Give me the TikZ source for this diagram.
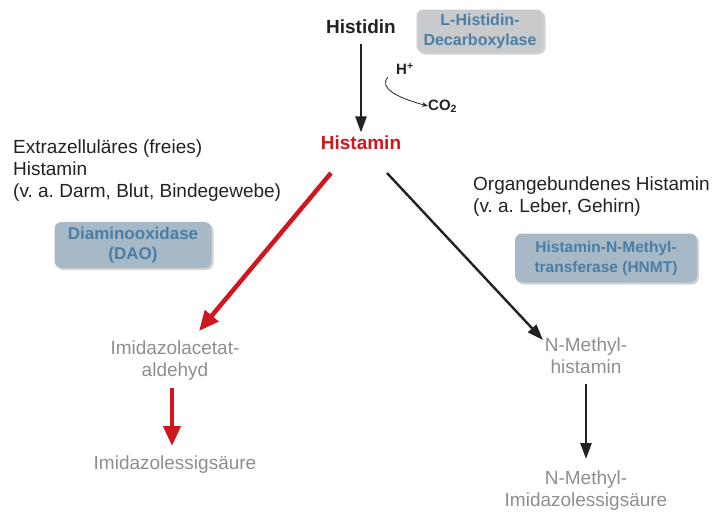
\documentclass[tikz,border=0pt]{standalone}
\usepackage{fontspec}
\setmainfont{Liberation Sans}
\usetikzlibrary{shadows, arrows.meta}
\definecolor{enzfill}{HTML}{A7B9C7}
\definecolor{enzgray}{HTML}{C9CACB}
\definecolor{enztext}{HTML}{4A7EA6}
\definecolor{histred}{HTML}{D0161E}
\definecolor{prodgray}{HTML}{8E8E8E}
\definecolor{txt}{HTML}{222222}
\frenchspacing

\begin{document}
\begin{tikzpicture}[x=1pt, y=-1pt,
    every node/.style={font=\fontsize{19}{22}\selectfont, text=txt, align=center},
    enzyme/.style={rounded corners=7pt, fill=enzfill, draw=none, text=enztext,
        font=\fontsize{17}{20}\selectfont\bfseries, drop shadow={opacity=0.35, shadow xshift=2pt, shadow yshift=-2pt}},
    product/.style={text=prodgray},
    blackarrow/.style={-{Triangle[length=16pt, width=11pt]}, line width=2.4pt, draw=txt},
    redarrow/.style={-{Triangle[length=20pt, width=17pt]}, line width=4.5pt, draw=histred}]
    \useasboundingbox (0,0) rectangle (713,512);
    % Decarboxylierung
    \node[font=\fontsize{19}{22}\selectfont\bfseries] (histidin) at (361,27) {Histidin};
    \node[enzyme, fill=enzgray, minimum width=127pt, minimum height=43pt,
        font=\fontsize{16}{20}\selectfont\bfseries] (hdc) at (480,31) {L-Histidin-\\Decarboxylase};
    \node[font=\fontsize{19}{22}\selectfont\bfseries, text=histred] (histamin) at (361,143) {Histamin};
    \node[font=\fontsize{15}{17}\selectfont\bfseries, anchor=west, inner sep=0pt] (hplus) at (396,69) {H\textsuperscript{+}};
    \node[font=\fontsize{15}{17}\selectfont\bfseries, anchor=west, inner sep=0pt] (co2) at (428,106) {CO\textsubscript{2}};
    \draw[blackarrow] (histidin.south) ++(0,6) coordinate (h1) -- (h1 |- histamin.north);
    \draw[-{Stealth[length=6pt]}, line width=0.8pt, draw=txt] (hplus.west) ++(-8,8) .. controls (378,88) and (398,98) .. (co2.west);
    % Extrazellulär
    \node[anchor=north west, align=left, inner sep=0pt] (extra) at (13,140) {Extrazelluläres (freies)\\Histamin\\(v. a. Darm, Blut, Bindegewebe)};
    \node[enzyme, minimum width=157pt, minimum height=46pt] (dao) at (133,245) {Diaminooxidase\\(DAO)};
    \node[product] (aldehyd) at (175,361) {Imidazolacetat-\\aldehyd};
    \node[product] (essig) at (175,465) {Imidazolessigsäure};
    \coordinate (r1) at (331,173);
    \draw[redarrow] (r1) -- (199,331);
    \draw[redarrow] (172,388) -- (172,446);
    % Organgebunden
    \node[anchor=north west, align=left, inner sep=0pt] (organ) at (473,177) {Organgebundenes Histamin\\(v. a. Leber, Gehirn)};
    \node[enzyme, minimum width=182pt, minimum height=49pt,
        font=\fontsize{15.5}{20}\selectfont\bfseries] (hnmt) at (606,258) {Histamin-N-Methyl-\\transferase (HNMT)};
    \node[product] (nmh) at (586,356) {N-Methyl-\\histamin};
    \node[product] (nmi) at (586,491) {N-Methyl-\\Imidazolessigsäure};
    \coordinate (b1) at (387,173);
    \draw[blackarrow] (b1) -- (543,340);
    \draw[blackarrow] (586,384) -- (586,459);
\end{tikzpicture}
\end{document}
